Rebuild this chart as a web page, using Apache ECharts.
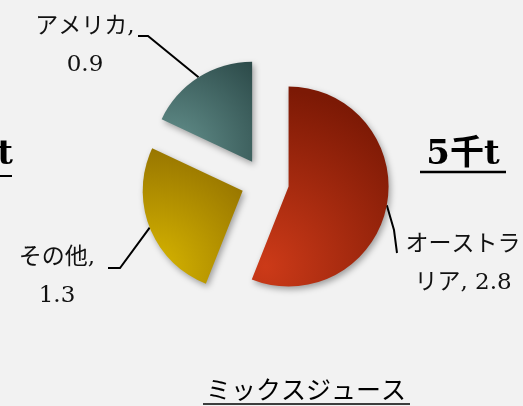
<!DOCTYPE html>
<html>
<head>
<meta charset="utf-8">
<script src="https://cdn.jsdelivr.net/npm/echarts@6/dist/echarts.min.js"></script>
<style>
html,body{margin:0;padding:0;background:#f2f2f2;}
#c{width:523px;height:406px;}
</style>
</head>
<body>
<div id="c"></div>
<script>
const categories = ['オーストラリア', 'その他', 'アメリカ'];
const values = [2.8, 1.3, 0.9];
const chartTitle = '5千t';
const subTitle = 'ミックスジュース';
const neighbourTitle = '千t';

const colorsBright = ['#cc3a18', '#d8b600', '#66938f'];
const colorsDark = ['#7c1905', '#947200', '#2d4b4a'];

const pieCenter = [265, 182];
const pieRadius = 100;
const explode = 24;

const labelConf = [
  {x: 463, y: 264, align: 'center', bend: [394, 230], end: [397, 253]},
  {x: 57, y: 277, align: 'center', bend: [120, 268], end: [108, 268]},
  {x: 85, y: 46, align: 'center', bend: [148, 36], end: [138, 36]}
];

function labelText(name, value) {
  if (name.length > 5) return name.slice(0, 5) + '\n' + name.slice(5) + ', ' + value;
  return name + ',\n' + value;
}

const total = values.reduce((a, b) => a + b, 0);
const font = "'DejaVu Serif', 'Noto Sans CJK JP', serif";
const shadow = {shadowBlur: 6, shadowOffsetX: 2, shadowOffsetY: 3, shadowColor: 'rgba(0,0,0,0.35)'};

let cum = 0;
const series = categories.map((name, k) => {
  const mid = (cum + values[k] / 2) / total * 2 * Math.PI; // clockwise from top
  cum += values[k];
  const cx = pieCenter[0] + explode * Math.sin(mid);
  const cy = pieCenter[1] - explode * Math.cos(mid);
  return {
    type: 'pie',
    center: [cx, cy],
    radius: [0, pieRadius],
    startAngle: 90,
    clockwise: true,
    avoidLabelOverlap: false,
    silent: true,
    emphasis: {disabled: true},
    z: 2,
    label: {
      show: true,
      position: 'outside',
      formatter: p => labelText(p.name, p.value),
      fontFamily: font,
      fontSize: 23,
      lineHeight: 38,
      color: '#111'
    },
    labelLine: {show: true, lineStyle: {color: '#000', width: 2}},
    labelLayout: function (p) {
      const c = labelConf[k];
      const start = p.labelLinePoints ? p.labelLinePoints[0] : c.bend;
      return {
        x: c.x, y: c.y, align: c.align, verticalAlign: 'middle',
        labelLinePoints: [start, c.bend, c.end]
      };
    },
    data: categories.map((n, i) => i === k ? {
      name: n, value: values[i],
      itemStyle: Object.assign({
        color: {
          type: 'radial', x: 0.1, y: 0.9, r: 1.3,
          colorStops: [{offset: 0, color: colorsBright[i]}, {offset: 1, color: colorsDark[i]}]
        }
      }, shadow)
    } : {
      name: n, value: values[i],
      itemStyle: {opacity: 0},
      label: {show: false}, labelLine: {show: false}
    })
  };
});

const chart = echarts.init(document.getElementById('c'), null, {renderer: 'canvas'});
chart.setOption({
  backgroundColor: '#f2f2f2',
  animation: false,
  series: series,
  graphic: [
    {type: 'text', x: 463, y: 155, style: {text: chartTitle, font: "bold 34px 'DejaVu Serif', 'Noto Sans CJK JP', serif", fill: '#000', textAlign: 'center', textVerticalAlign: 'middle'}},
    {type: 'line', shape: {x1: 420, y1: 172, x2: 506, y2: 172}, style: {stroke: '#000', lineWidth: 2.5}},
    {type: 'text', x: 13, y: 155, style: {text: neighbourTitle, font: "bold 34px 'DejaVu Serif', 'Noto Sans CJK JP', serif", fill: '#000', textAlign: 'right', textVerticalAlign: 'middle'}},
    {type: 'line', shape: {x1: 0, y1: 176, x2: 12, y2: 176}, style: {stroke: '#000', lineWidth: 2}},
    {type: 'text', x: 306, y: 389, style: {text: subTitle, font: "25px 'Noto Sans CJK JP', sans-serif", fill: '#000', textAlign: 'center', textVerticalAlign: 'middle'}},
    {type: 'line', shape: {x1: 203, y1: 404, x2: 410, y2: 404}, style: {stroke: '#000', lineWidth: 1.5}}
  ]
});
</script>
</body>
</html>
